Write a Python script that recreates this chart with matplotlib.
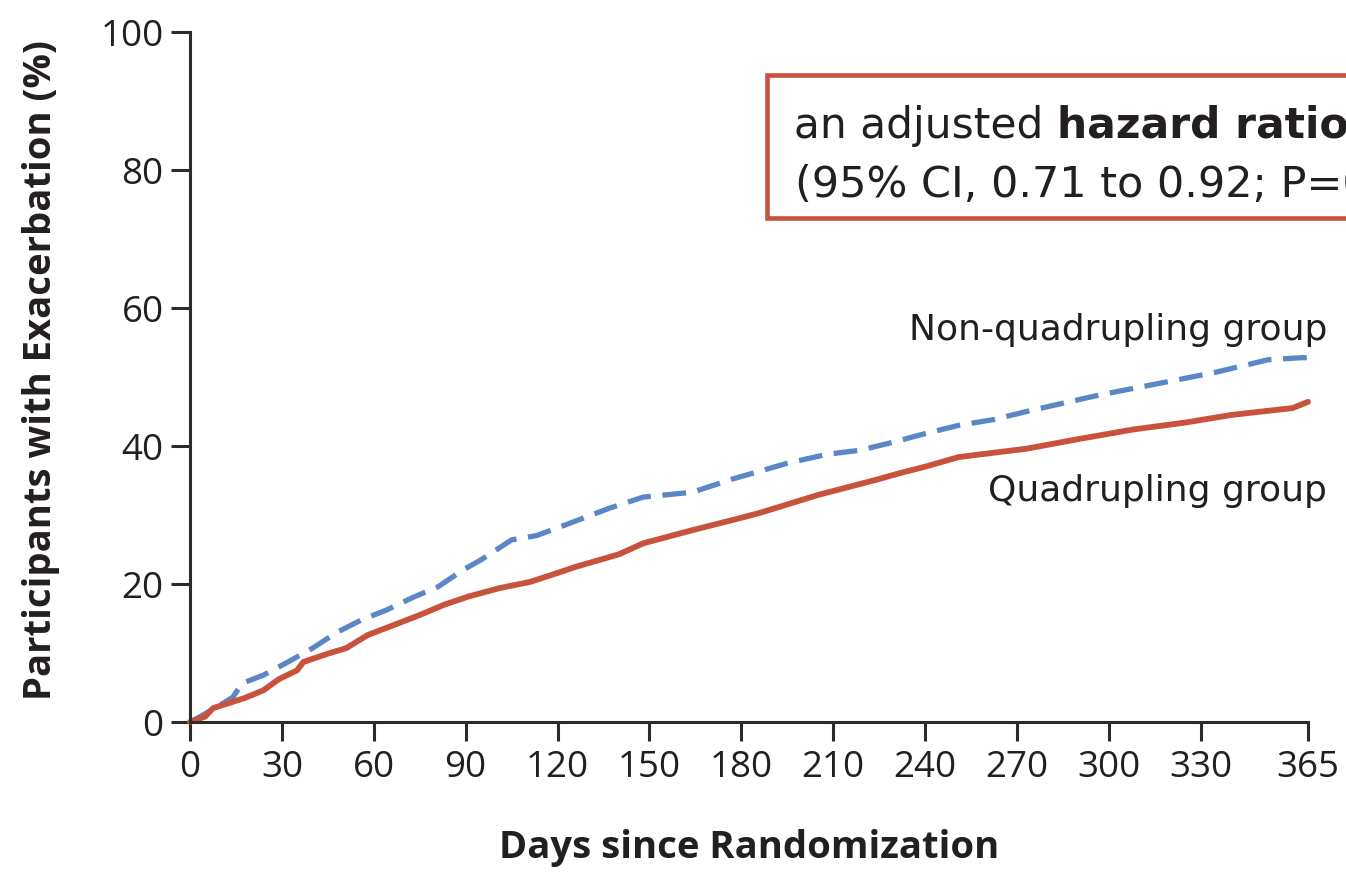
import numpy as np
import matplotlib
matplotlib.use("Agg")
import matplotlib.pyplot as plt
import matplotlib.patches as patches

# cumulative incidence of exacerbation, read at irregular days
quad_days = [0, 5, 7.5, 18, 24, 29, 35, 37, 45, 51, 58, 68, 75, 83, 91, 101, 111, 120,
             126, 140, 148, 164, 180, 186, 205, 224, 232, 240, 251, 273, 290, 308,
             325, 340, 360, 365]
quad_pct = [0, 0.8, 2.0, 3.5, 4.6, 6.2, 7.5, 8.7, 9.9, 10.7, 12.6, 14.3, 15.5, 17.0,
            18.2, 19.4, 20.3, 21.6, 22.5, 24.3, 25.9, 27.8, 29.6, 30.3, 32.9, 35.1,
            36.1, 37.0, 38.4, 39.6, 41.0, 42.4, 43.4, 44.5, 45.5, 46.4]

nonquad_days = [0, 3, 10, 14, 17, 24, 32, 40, 48, 56, 64, 73, 81, 89, 95, 105, 113,
                121, 137, 148, 164, 177, 195, 208, 219, 230, 240, 251, 262, 275, 297,
                319, 335, 352, 363, 365]
nonquad_pct = [0, 0.7, 2.5, 3.6, 5.6, 6.8, 8.7, 10.7, 13.0, 14.8, 16.2, 18.1, 19.6,
               22.0, 23.5, 26.4, 27.0, 28.3, 31.0, 32.6, 33.3, 35.2, 37.5, 38.8, 39.4,
               40.6, 41.8, 43.0, 43.8, 45.2, 47.4, 49.3, 50.7, 52.5, 52.8, 52.8]

x_ticks = [0, 30, 60, 90, 120, 150, 180, 210, 240, 270, 300, 330, 365]
y_ticks = [0, 20, 40, 60, 80, 100]

RED = "#c8523b"
BLUE = "#5b87c6"
INK = "#231f20"
AXIS = "#2b2b2b"

plt.rcParams["font.family"] = ["Open Sans", "DejaVu Sans"]

W, H = 1346, 872
fig = plt.figure(figsize=(W / 100, H / 100), dpi=100)
ax = fig.add_axes([190 / W, 150 / H, 1118 / W, 690 / H])

ax.plot(nonquad_days, nonquad_pct, color=BLUE, lw=3.8, dashes=(4.5, 2.2),
        solid_capstyle="butt", clip_on=False)
ax.plot(quad_days, quad_pct, color=RED, lw=4.2, solid_capstyle="round", clip_on=False)

ax.set_xlim(0, 365)
ax.set_ylim(0, 100)
ax.set_xticks(x_ticks)
ax.set_yticks(y_ticks)
for side in ["top", "right"]:
    ax.spines[side].set_visible(False)
for side in ["left", "bottom"]:
    ax.spines[side].set_linewidth(2.2)
    ax.spines[side].set_color(AXIS)
ax.tick_params(direction="out", length=14, width=2.2, color=AXIS,
               labelcolor=INK, labelsize=26.5)
ax.tick_params(axis="x", pad=6)
ax.tick_params(axis="y", pad=5)

fig.text(749 / W, (H - 858) / H, "Days since Randomization", ha="center",
         va="baseline", fontsize=27.5, fontweight="bold", color=INK)
fig.text(41 / W, (H - 370) / H, "Participants with Exacerbation (%)", ha="center",
         va="center", rotation=90, fontsize=27.5, fontweight="bold", color=INK)

# curve labels
ax.text(1327 / W, (H - 340) / H, "Non-quadrupling group", transform=fig.transFigure,
        ha="right", va="baseline", fontsize=26, family="DejaVu Sans", color=INK)
ax.text(1327 / W, (H - 501) / H, "Quadrupling group", transform=fig.transFigure,
        ha="right", va="baseline", fontsize=26, family="DejaVu Sans", color=INK)

# hazard ratio call-out, running off the right edge
box = patches.Rectangle((767 / W, (H - 218) / H), 0.5, 143 / H, transform=fig.transFigure,
                        facecolor="white", edgecolor=RED, lw=3.3, clip_on=False, zorder=5)
fig.patches.append(box)
fig.text(794 / W, (H - 138) / H, "an adjusted", ha="left", va="baseline",
         fontsize=30.5, family="DejaVu Sans", color=INK, zorder=6)
fig.text(1057 / W, (H - 138) / H, "hazard ratio of 0.81", ha="left", va="baseline",
         fontsize=30.5, family="DejaVu Sans", fontweight="bold", color=INK, zorder=6)
fig.text(795 / W, (H - 197) / H, "(95% CI, 0.71 to 0.92; P=0.002)", ha="left",
         va="baseline", fontsize=31, family="DejaVu Sans", color=INK, zorder=6)

fig.savefig("out.png", dpi=100)
